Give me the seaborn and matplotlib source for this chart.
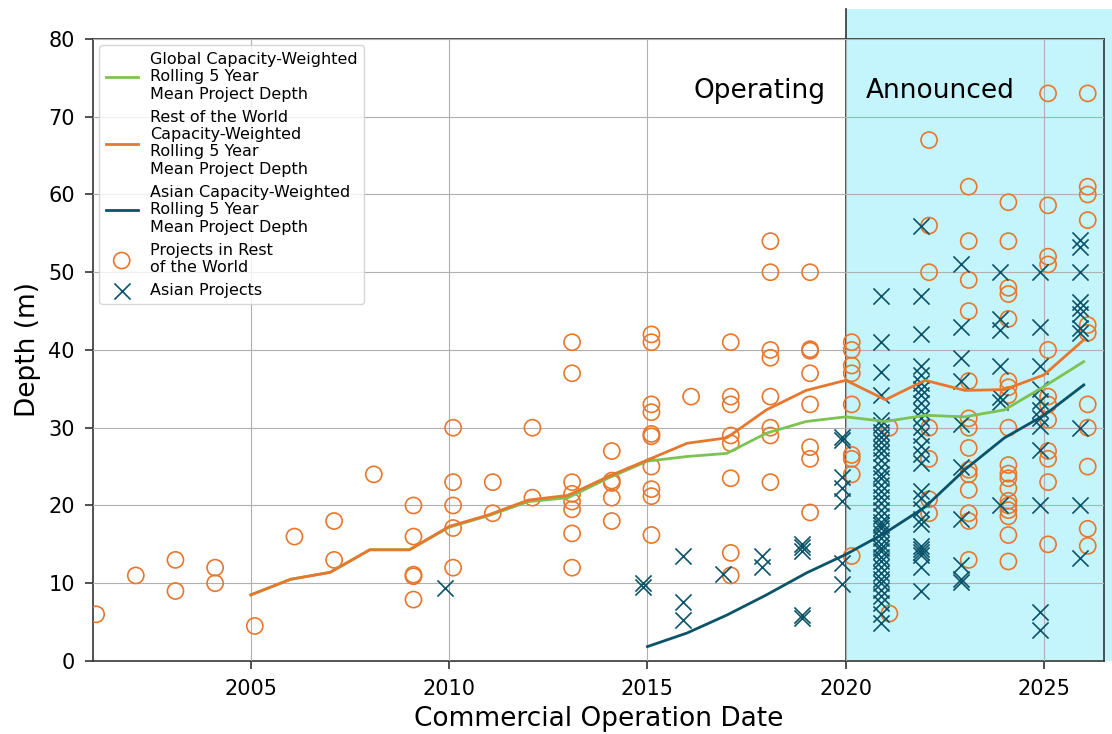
import numpy as np
import pandas as pd
import matplotlib
matplotlib.use("Agg")
import matplotlib.pyplot as plt
import seaborn as sns

# ---------------- data ----------------
roll_years = list(range(2005, 2027))
global_mean = [8.5, 10.5, 11.4, 14.3, 14.3, 17.2, 18.7, 20.5, 21.0, 23.5, 25.7,
               26.3, 26.7, 29.3, 30.8, 31.4, 30.8, 31.6, 31.4, 32.3, 35.3, 38.5]
row_mean = [8.5, 10.5, 11.4, 14.3, 14.3, 17.3, 18.8, 20.7, 21.3, 23.7, 25.85,
            28.0, 28.7, 32.3, 34.8, 36.1, 33.6, 36.1, 34.8, 34.9, 36.8, 41.3]
asia_years = list(range(2015, 2027))
asia_mean = [1.85, 3.6, 5.9, 8.5, 11.3, 13.7, 16.5, 19.8, 24.6, 28.7, 31.6, 35.5]

row_proj_year = ([2001.1] + [2002.1] + [2003.1] * 2 + [2004.1] * 2 + [2005.1] + [2006.1]
                 + [2007.1] * 2 + [2008.1] + [2009.1] * 5 + [2010.1] * 5 + [2011.1] * 2
                 + [2012.1] * 2 + [2013.1] * 8 + [2014.1] * 5 + [2015.1] * 10 + [2016.1]
                 + [2017.1] * 8 + [2018.1] * 8 + [2019.1] * 8 + [2020.15] * 9 + [2021.1] * 2
                 + [2022.1] * 7 + [2023.1] * 14 + [2024.1] * 19 + [2025.1] * 12 + [2026.1] * 11)
row_proj_depth = ([6] + [11] + [13, 9] + [12, 10] + [4.5] + [16]
                  + [18, 13] + [24] + [20, 16, 11.1, 10.9, 7.9] + [30, 23, 20, 17.1, 12] + [23, 19]
                  + [30, 21] + [41, 37, 23, 21.5, 20.5, 19.5, 16.4, 12] + [27, 23.2, 22.9, 21, 18]
                  + [42, 41, 33, 32, 29.2, 28.9, 25, 22.1, 21.2, 16.2] + [34]
                  + [41, 34, 33, 29, 28, 23.5, 13.9, 11] + [54, 50, 40, 39, 34, 30, 29, 23]
                  + [50, 40.1, 39.9, 37, 33, 27.5, 26, 19.1] + [41, 40, 38, 37, 33, 26.5, 26, 24, 13.5]
                  + [30, 6.1] + [67, 56, 50, 30, 26, 20.8, 19]
                  + [61, 54, 49, 45, 36, 31.2, 30, 27.4, 24.6, 24, 22, 19, 18, 13]
                  + [59, 54, 48, 47.2, 44, 36, 35.2, 34.2, 30, 25.2, 24.1, 23.5, 22.2, 20.6, 20,
                     19.4, 18.6, 16.2, 12.8]
                  + [73, 58.6, 52, 51, 40, 34, 33, 31, 27, 26, 23, 15]
                  + [73, 61, 60, 56.7, 43.2, 42.2, 33, 30, 25, 17, 14.8])

asia_2021 = [47, 41, 37.2, 34.2, 31, 30.4, 29.5, 28.85, 28.2, 27.35, 26.7, 25.85, 25, 24.1,
             23.5, 22.6, 21.8, 21.1, 20.3, 19.4, 18.6, 17.9, 17.5, 17.1, 16.4, 15.8, 15.1,
             14.5, 14.1, 13.4, 12.8, 12.1, 11.3, 10.6, 10, 9.1, 8.3, 7.4, 6.1, 4.9]
asia_2022 = [56, 47, 42, 38, 36.8, 35.8, 35, 34.2, 33.2, 32.2, 31.2, 30.1, 29, 27.6, 26.6,
             25.5, 21.8, 21, 19.6, 18.3, 17.6, 14.8, 14.4, 14.0, 13.6, 12.1, 9]
asia_proj_year = ([2009.9] + [2014.9] * 2 + [2015.9] * 3 + [2016.9] + [2017.9] * 2
                  + [2018.9] * 5 + [2019.9] * 7 + [2020.9] * len(asia_2021)
                  + [2021.9] * len(asia_2022) + [2022.9] * 10 + [2023.9] * 7
                  + [2024.9] * 12 + [2025.9] * 11)
asia_proj_depth = ([9.4] + [10.0, 9.5] + [13.5, 7.6, 5.3] + [11.2] + [13.5, 12.1]
                   + [15.1, 14.6, 14.2, 5.9, 5.5] + [28.8, 28.4, 23.6, 22.3, 20.6, 12.6, 9.9]
                   + asia_2021 + asia_2022
                   + [51, 43, 39, 36, 30.5, 25, 18.3, 12.3, 10.6, 10.1]
                   + [50, 44, 42.6, 38, 34, 33.3, 20]
                   + [50, 43, 38, 35, 33.5, 32.3, 31.2, 30.2, 27.1, 20, 6.3, 4]
                   + [54.1, 53.3, 50, 46.2, 45.4, 44.6, 42.8, 42.2, 30, 20, 13.3])

x_ticks = [2005, 2010, 2015, 2020, 2025]
y_ticks = [0, 10, 20, 30, 40, 50, 60, 70, 80]

label_global = "Global Capacity-Weighted\nRolling 5 Year\nMean Project Depth"
label_row = "Rest of the World\nCapacity-Weighted\nRolling 5 Year\nMean Project Depth"
label_asia = "Asian Capacity-Weighted\nRolling 5 Year\nMean Project Depth"
label_row_proj = "Projects in Rest\nof the World"
label_asia_proj = "Asian Projects"

# ---------------- style ----------------
ORANGE = "#e8772e"
GREEN = "#7dc353"
BLUE = "#0b5368"
CYAN = "#c4f4fc"
SPINE = "#333333"

fig = plt.figure(figsize=(11.12, 7.34), dpi=100)
ax = fig.add_axes([0.0836, 0.0995, 0.9092, 0.8474])

ax.axvspan(2020, 2030, ymin=0, ymax=(661 - 9) / (661 - 39), color=CYAN, lw=0,
           clip_on=False, zorder=0.5)
ax.axvline(2020, ymin=0, ymax=(661 - 9) / (661 - 39), color=SPINE, lw=1.2,
           clip_on=False, zorder=2.4)

sns.scatterplot(x=row_proj_year, y=row_proj_depth, ax=ax, marker="o", s=135,
                color=ORANGE, facecolor="none", edgecolor=ORANGE, linewidth=1.2,
                label=label_row_proj, zorder=3)
sns.scatterplot(x=asia_proj_year, y=asia_proj_depth, ax=ax, marker="x", s=135,
                color=BLUE, linewidth=1.2, label=label_asia_proj, zorder=3)

sns.lineplot(x=roll_years, y=global_mean, ax=ax, color=GREEN, lw=2,
             label=label_global, zorder=4)
sns.lineplot(x=roll_years, y=row_mean, ax=ax, color=ORANGE, lw=2,
             label=label_row, zorder=4)
sns.lineplot(x=asia_years, y=asia_mean, ax=ax, color=BLUE, lw=2,
             label=label_asia, zorder=4)

ax.set_xlim(2001.02, 2026.51)
ax.set_ylim(0, 80)
ax.set_xticks(x_ticks)
ax.set_xticklabels([str(t) for t in x_ticks])
ax.set_yticks(y_ticks)
ax.tick_params(labelsize=15, length=6, width=1.2, pad=7, color=SPINE)
for sp in ax.spines.values():
    sp.set_color(SPINE)
    sp.set_linewidth(1.2)
ax.grid(True, color="#b0b0b0", lw=0.8)
ax.set_axisbelow(False)
for gl in ax.get_xgridlines() + ax.get_ygridlines():
    gl.set_zorder(1)
ax.set_xlabel("Commercial Operation Date", fontsize=19, labelpad=5)
ax.set_ylabel("Depth (m)", fontsize=19, labelpad=5)

ax.text(2019.5, 73.3, "Operating", fontsize=19, ha="right", va="center")
ax.text(2020.5, 73.3, "Announced", fontsize=19, ha="left", va="center")

handles, labels = ax.get_legend_handles_labels()
order = [label_global, label_row, label_asia, label_row_proj, label_asia_proj]
hmap = dict(zip(labels, handles))
ax.legend([hmap[l] for l in order], order, loc="upper left", fontsize=11.5,
          borderaxespad=0.4)

fig.savefig("out.png", dpi=100)
